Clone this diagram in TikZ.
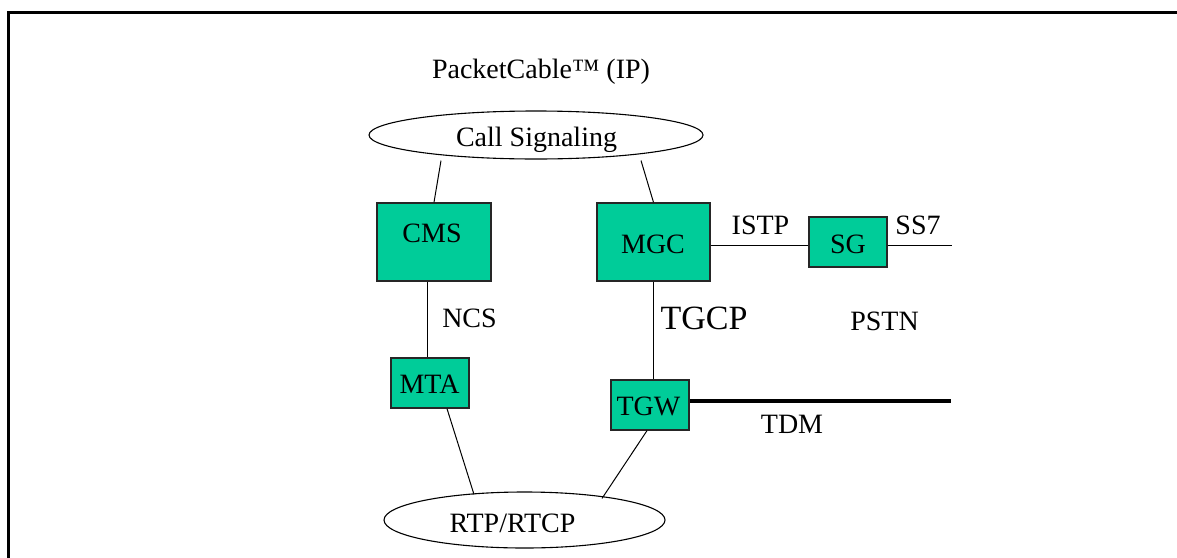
\documentclass[tikz,border=0pt]{standalone}
\usepackage{fontspec}
\setmainfont{Liberation Serif}
\usetikzlibrary{shapes.geometric,calc}
\definecolor{boxgreen}{HTML}{00CC99}
\begin{document}
\begin{tikzpicture}[x=1pt,y=-1pt,
  box/.style={draw=black!85, line width=1.3pt, fill=boxgreen, inner sep=0pt, rectangle},
  oval/.style={draw=black, line width=1.1pt, ellipse, inner sep=0pt},
  txt/.style={inner sep=0pt, anchor=base, font=\fontsize{28}{34}\selectfont},
  bigtxt/.style={inner sep=0pt, anchor=base, font=\fontsize{34}{40}\selectfont},
  link/.style={draw=black, line width=1pt},
  trunk/.style={draw=black, line width=4pt}]
\clip (0,0) rectangle (1177,557);
\draw[line width=2.7pt] (8.5,12.5) rectangle (1200,590);

% ovals
\node[oval, minimum width=334pt, minimum height=48pt] (cs) at (536,135) {};
\node[oval, minimum width=281pt, minimum height=56pt] (rtp) at (524.5,520) {};

% boxes
\node[box, minimum width=114pt, minimum height=78pt] (cms) at (434,242) {};
\node[box, minimum width=113pt, minimum height=78pt] (mgc) at (653.5,242) {};
\node[box, minimum width=78pt, minimum height=50pt] (sg) at (848,242) {};
\node[box, minimum width=78pt, minimum height=50pt] (mta) at (430,383) {};
\node[box, minimum width=78pt, minimum height=50pt] (tgw) at (650,405) {};

\coordinate (ss7end) at (952,245);
\coordinate (tdmend) at (951,401);

% connectors
\draw[link] ($(cs.south)+(-95,1)$) -- (cms.north);
\draw[link] ($(cs.south)+(105,1)$) -- (mgc.north);
\draw[link] ($(cms.south)+(-7,0)$) -- ($(mta.north)+(-3,0)$);
\draw[link] (mgc.south) -- (mgc.south |- tgw.north);
\draw[link] ($(mgc.east)+(0,3)$) -- ($(sg.west)+(0,3)$);
\draw[link] ($(sg.east)+(0,3)$) -- (ss7end);
\draw[trunk] ($(tgw.east)+(0,-4)$) -- (tdmend);
\draw[link] ($(mta.south)+(17,0)$) -- ($(rtp.north)+(-50.5,3)$);
\draw[link] ($(tgw.south)+(-3,0)$) -- ($(rtp.north)+(77.5,7)$);

% texts
\node[txt] (title) at (541,78) {PacketCable™ (IP)};
\node[txt] (cstext) at (536.5,146) {Call Signaling};
\node[txt] (cmstext) at (432,242) {CMS};
\node[txt] (mgctext) at (653,253) {MGC};
\node[txt] (sgtext) at (848,253) {SG};
\node[txt] (mtatext) at (429.5,393) {MTA};
\node[txt] (tgwtext) at (648.5,415) {TGW};
\node[txt] (rtptext) at (512.5,532) {RTP/RTCP};
\node[txt] (ncs) at (469.5,327) {NCS};
\node[bigtxt] (tgcp) at (704,329) {TGCP};
\node[txt] (istp) at (760.5,234) {ISTP};
\node[txt] (ss7) at (918,234) {SS7};
\node[txt] (pstn) at (884.5,330) {PSTN};
\node[txt] (tdm) at (792,433) {TDM};
\end{tikzpicture}
\end{document}
